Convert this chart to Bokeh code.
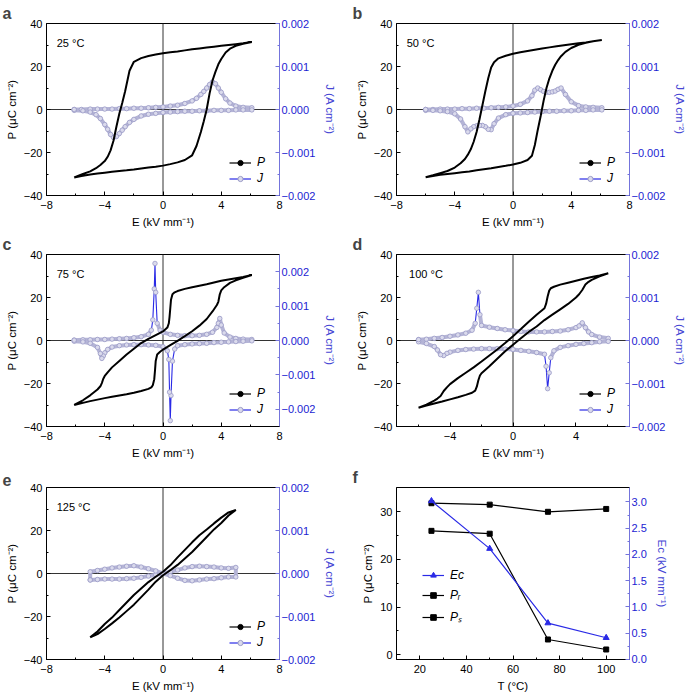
import numpy as np
from bokeh.plotting import figure
from bokeh.models import (Range1d, LinearAxis, Span, Label, Legend, LegendItem,
                          FixedTicker, CustomJSTickFormatter)
from bokeh.layouts import column, row
from bokeh.embed import file_html
from bokeh.resources import INLINE

# ---------------- data ----------------
# panel a, 25 C
A_E_UP = [-6.1, -5.6, -5.0, -4.5, -4.0, -3.5, -3.0, -2.5, -2.0, -1.5, -1.0, -0.5, 0.0, 0.5, 1.0, 1.5, 2.0, 2.3, 2.6, 2.8, 3.0, 3.2, 3.4, 3.6, 3.8, 4.0, 4.3, 4.6, 5.0, 5.5, 6.1]
A_P_UP = [-31.6, -30.9, -30.2, -29.8, -29.4, -29.0, -28.6, -28.3, -27.9, -27.4, -27.0, -26.6, -26.1, -25.4, -24.6, -23.5, -21.3, -17.0, -10.5, -5.5, 0.0, 7.5, 13.5, 17.5, 21.0, 23.5, 26.5, 28.3, 29.6, 30.6, 31.4]
A_J_UP = [0.00000, 0.00000, 0.00001, 0.00001, 0.00001, 0.00001, 0.00002, 0.00002, 0.00003, 0.00003, 0.00004, 0.00005, 0.00006, 0.00008, 0.00010, 0.00014, 0.00020, 0.00026, 0.00035, 0.00042, 0.00050, 0.00058, 0.00064, 0.00060, 0.00050, 0.00040, 0.00025, 0.00015, 0.00008, 0.00005, 0.00004]
A_E_DN = [6.1, 5.5, 5.0, 4.5, 4.0, 3.5, 3.0, 2.5, 2.0, 1.5, 1.0, 0.5, 0.0, -0.5, -1.0, -1.5, -2.0, -2.3, -2.6, -2.8, -3.0, -3.2, -3.4, -3.6, -3.8, -4.0, -4.3, -4.6, -5.0, -5.5, -6.1]
A_P_DN = [31.4, 30.8, 30.4, 30.0, 29.6, 29.2, 28.8, 28.4, 28.0, 27.5, 27.0, 26.6, 26.2, 25.6, 24.9, 23.9, 22.2, 18.0, 8.5, 3.0, -2.0, -8.0, -14.5, -19.0, -22.0, -24.0, -25.8, -27.3, -28.8, -30.0, -31.6]
A_J_DN = [-0.00001, -0.00001, -0.00001, -0.00002, -0.00002, -0.00002, -0.00003, -0.00003, -0.00004, -0.00004, -0.00005, -0.00006, -0.00007, -0.00009, -0.00011, -0.00015, -0.00023, -0.00030, -0.00040, -0.00048, -0.00056, -0.00063, -0.00065, -0.00058, -0.00046, -0.00035, -0.00021, -0.00012, -0.00006, -0.00003, -0.00002]

# panel b, 50 C
B_E_UP = [-6.0, -5.5, -5.0, -4.5, -4.0, -3.5, -3.0, -2.5, -2.0, -1.5, -1.0, -0.5, 0.0, 0.5, 1.0, 1.3, 1.5, 1.7, 1.9, 2.1, 2.3, 2.5, 2.7, 2.9, 3.1, 3.3, 3.6, 4.0, 4.5, 5.0, 5.5, 6.1]
B_P_UP = [-31.5, -30.9, -30.4, -30.0, -29.6, -29.2, -28.8, -28.3, -27.8, -27.3, -26.7, -26.2, -25.6, -24.8, -23.5, -21.5, -16.5, -9.5, -3.0, 4.0, 10.0, 14.5, 18.0, 20.8, 23.0, 24.8, 26.8, 28.6, 30.1, 31.0, 31.7, 32.3]
B_J_UP = [0.00000, 0.00000, 0.00001, 0.00001, 0.00001, 0.00002, 0.00002, 0.00003, 0.00003, 0.00004, 0.00005, 0.00006, 0.00008, 0.00012, 0.00020, 0.00032, 0.00045, 0.00050, 0.00046, 0.00042, 0.00040, 0.00040, 0.00041, 0.00043, 0.00047, 0.00050, 0.00035, 0.00018, 0.00009, 0.00006, 0.00005, 0.00004]
B_E_DN = [6.1, 5.5, 5.0, 4.5, 4.0, 3.5, 3.0, 2.5, 2.0, 1.5, 1.0, 0.5, 0.0, -0.5, -1.0, -1.3, -1.5, -1.7, -1.9, -2.1, -2.3, -2.5, -2.7, -2.9, -3.1, -3.3, -3.6, -4.0, -4.5, -5.0, -5.5, -6.0]
B_P_DN = [32.3, 31.7, 31.2, 30.8, 30.4, 29.9, 29.4, 28.9, 28.4, 27.8, 27.2, 26.6, 25.9, 25.0, 23.8, 22.0, 19.5, 14.5, 8.5, 2.0, -4.5, -10.5, -15.0, -18.5, -21.0, -23.0, -25.0, -27.0, -28.6, -29.6, -30.6, -31.5]
B_J_DN = [-0.00001, -0.00001, -0.00002, -0.00002, -0.00003, -0.00003, -0.00004, -0.00004, -0.00005, -0.00006, -0.00007, -0.00008, -0.00009, -0.00012, -0.00020, -0.00033, -0.00047, -0.00046, -0.00040, -0.00037, -0.00037, -0.00038, -0.00040, -0.00045, -0.00052, -0.00040, -0.00022, -0.00010, -0.00005, -0.00003, -0.00002, -0.00002]

# panel c, 75 C
C_E_UP = [-6.1, -5.5, -5.0, -4.5, -4.0, -3.5, -3.0, -2.5, -2.0, -1.5, -1.0, -0.8, -0.7, -0.6, -0.55, -0.5, -0.4, -0.2, 0.0, 0.5, 1.0, 1.5, 2.0, 2.5, 3.0, 3.4, 3.7, 3.8, 3.9, 4.0, 4.2, 4.6, 5.0, 5.5, 6.1]
C_P_UP = [-30.0, -29.0, -28.2, -27.5, -26.8, -26.2, -25.6, -25.0, -24.3, -23.5, -22.5, -21.8, -20.8, -18.0, -14.0, -9.5, -6.5, -5.2, -4.2, -2.2, -0.2, 2.0, 4.3, 6.9, 10.0, 13.5, 16.5, 18.0, 21.5, 23.3, 24.8, 26.8, 28.0, 29.2, 30.5]
C_J_UP = [0.00001, 0.00002, 0.00002, 0.00003, 0.00003, 0.00004, 0.00005, 0.00006, 0.00008, 0.00011, 0.00018, 0.00030, 0.00060, 0.00150, 0.00224, 0.00140, 0.00050, 0.00030, 0.00024, 0.00018, 0.00015, 0.00014, 0.00014, 0.00015, 0.00018, 0.00024, 0.00038, 0.00050, 0.00064, 0.00045, 0.00022, 0.00010, 0.00006, 0.00004, 0.00003]
C_E_DN = [6.1, 5.5, 5.0, 4.5, 4.0, 3.5, 3.0, 2.5, 2.0, 1.5, 1.0, 0.8, 0.65, 0.55, 0.5, 0.45, 0.4, 0.3, 0.0, -0.5, -1.0, -1.5, -2.0, -2.5, -3.0, -3.5, -3.8, -4.0, -4.1, -4.2, -4.3, -4.5, -5.0, -5.5, -6.1]
C_P_DN = [30.5, 29.6, 29.0, 28.4, 27.8, 27.0, 26.2, 25.5, 24.8, 24.0, 23.0, 22.4, 21.5, 19.0, 15.0, 11.0, 8.0, 6.0, 4.2, 2.5, 0.8, -1.2, -3.8, -6.5, -9.5, -12.5, -14.8, -16.5, -17.8, -19.8, -21.3, -22.8, -25.5, -27.8, -30.0]
C_J_DN = [-0.00001, -0.00002, -0.00003, -0.00004, -0.00005, -0.00006, -0.00008, -0.00009, -0.00010, -0.00012, -0.00015, -0.00025, -0.00060, -0.00160, -0.00233, -0.00150, -0.00055, -0.00030, -0.00018, -0.00014, -0.00013, -0.00012, -0.00012, -0.00013, -0.00015, -0.00019, -0.00026, -0.00036, -0.00045, -0.00052, -0.00038, -0.00020, -0.00008, -0.00004, -0.00002]

# panel d, 100 C
D_E_UP = [-6.0, -5.5, -5.0, -4.5, -4.0, -3.5, -3.0, -2.6, -2.4, -2.3, -2.2, -2.1, -2.0, -1.5, -1.0, -0.5, 0.0, 0.5, 1.0, 1.5, 2.0, 2.5, 3.0, 3.5, 4.0, 4.2, 4.4, 4.6, 4.8, 5.0, 5.5, 6.05]
D_P_UP = [-31.3, -30.3, -29.3, -28.4, -27.4, -26.4, -25.3, -24.3, -23.3, -21.5, -18.5, -16.3, -15.2, -12.0, -8.5, -5.0, -2.0, 1.0, 4.0, 6.5, 9.5, 12.0, 14.5, 17.0, 20.0, 21.5, 23.5, 26.0, 27.3, 28.2, 29.8, 31.3]
D_J_UP = [0.00002, 0.00003, 0.00005, 0.00007, 0.00010, 0.00013, 0.00017, 0.00024, 0.00040, 0.00075, 0.00112, 0.00060, 0.00035, 0.00031, 0.00028, 0.00025, 0.00023, 0.00021, 0.00020, 0.00020, 0.00020, 0.00021, 0.00022, 0.00025, 0.00030, 0.00034, 0.00041, 0.00030, 0.00020, 0.00014, 0.00008, 0.00005]
D_E_DN = [6.05, 5.5, 5.0, 4.5, 4.0, 3.5, 3.0, 2.6, 2.4, 2.3, 2.2, 2.1, 2.0, 1.5, 1.0, 0.5, 0.0, -0.5, -1.0, -1.5, -2.0, -2.5, -3.0, -3.5, -4.0, -4.2, -4.4, -4.6, -4.8, -5.0, -5.5, -6.0]
D_P_DN = [31.3, 30.3, 29.5, 28.7, 27.8, 26.9, 26.0, 25.0, 24.3, 23.2, 20.5, 17.0, 15.0, 12.0, 8.7, 5.3, 2.0, -1.2, -4.2, -7.0, -9.8, -12.5, -15.0, -17.5, -20.3, -21.8, -23.5, -25.8, -27.0, -28.0, -29.8, -31.3]
D_J_DN = [-0.00002, -0.00003, -0.00005, -0.00007, -0.00009, -0.00012, -0.00016, -0.00024, -0.00040, -0.00075, -0.00112, -0.00060, -0.00032, -0.00028, -0.00025, -0.00023, -0.00021, -0.00020, -0.00019, -0.00019, -0.00019, -0.00020, -0.00021, -0.00023, -0.00027, -0.00030, -0.00035, -0.00033, -0.00022, -0.00014, -0.00007, -0.00003]

# panel e, 125 C
E_E_UP = [-5.0, -4.5, -4.0, -3.5, -3.0, -2.5, -2.0, -1.5, -1.0, -0.5, 0.0, 0.5, 1.0, 1.5, 2.0, 2.5, 3.0, 3.5, 4.0, 4.5, 5.0]
E_P_UP = [-29.7, -28.2, -25.8, -23.2, -20.5, -17.5, -14.5, -11.0, -7.5, -3.8, -0.8, 1.5, 4.0, 7.0, 10.0, 13.5, 17.0, 20.5, 23.5, 27.0, 29.6]
E_J_UP = [-0.00015, -0.00014, -0.00013, -0.00013, -0.00013, -0.00012, -0.00011, -0.00009, -0.00006, -0.00003, 0.00000, 0.00004, 0.00008, 0.00013, 0.00016, 0.00017, 0.00016, 0.00015, 0.00013, 0.00012, 0.00014]
E_E_DN = [5.0, 4.5, 4.0, 3.5, 3.0, 2.5, 2.0, 1.5, 1.0, 0.5, 0.0, -0.5, -1.0, -1.5, -2.0, -2.5, -3.0, -3.5, -4.0, -4.5, -5.0]
E_P_DN = [29.6, 28.4, 26.0, 23.3, 20.5, 17.8, 14.5, 11.0, 7.5, 3.8, 0.8, -1.5, -4.0, -7.0, -10.0, -13.5, -17.0, -20.5, -23.5, -27.0, -29.7]
E_J_DN = [-0.00008, -0.00008, -0.00010, -0.00012, -0.00013, -0.00015, -0.00017, -0.00016, -0.00011, -0.00005, 0.00000, 0.00006, 0.00011, 0.00015, 0.00018, 0.00017, 0.00015, 0.00013, 0.00010, 0.00007, 0.00004]

# panel f
F_T = [25, 50, 75, 100]
F_PS = [31.8, 31.5, 30.0, 30.6]
F_PR = [26.0, 25.4, 3.2, 1.1]
F_EC = [3.02, 2.11, 0.69, 0.41]

# ticks
X_TICKS = [-8, -4, 0, 4, 8]
X_TICK_LABELS = ["−8", "−4", "0", "4", "8"]
X_MINOR = [-6, -2, 2, 6]
D_X_TICKS = [-4, 0, 4]
D_X_TICK_LABELS = ["−4", "0", "4"]
P_TICKS = [-40, -20, 0, 20, 40]
P_TICK_LABELS = ["−40", "−20", "0", "20", "40"]
P_MINOR = [-30, -10, 10, 30]
J_TICKS = [-0.002, -0.001, 0.0, 0.001, 0.002]
J_TICK_LABELS = ["−0.002", "−0.001", "0.000", "0.001", "0.002"]
J_MINOR = [-0.0015, -0.0005, 0.0005, 0.0015]
T_TICKS = [20, 40, 60, 80, 100]
T_TICK_LABELS = ["20", "40", "60", "80", "100"]
T_MINOR = [30, 50, 70, 90]
FP_TICKS = [0, 10, 20, 30]
FP_TICK_LABELS = ["0", "10", "20", "30"]
FP_MINOR = [5, 15, 25]
EC_TICKS = [0.0, 0.5, 1.0, 1.5, 2.0, 2.5, 3.0]
EC_TICK_LABELS = ["0.0", "0.5", "1.0", "1.5", "2.0", "2.5", "3.0"]
EC_MINOR = [0.25, 0.75, 1.25, 1.75, 2.25, 2.75]

# ---------------- style ----------------
FONT = "Liberation Sans"
BLUE_TXT = "#1c1cd2"
BLUE_AX = "#7474dc"
BLUE_LBL = "#4646d4"
BLUE_LINE = "#2a2ae6"
LAV_BAND = "#b4b4d6"
LAV_FILL = "#dadaec"
LAV_EDGE = "#9a9ac6"

# (left border, frame width, right border, title offset from canvas left)
COLS = [(46, 233, 61, 2), (56, 233, 48, 12)]
# (top border, bottom border) per row
ROWS = [(21, 36), (21, 38), (21, 33)]
FRAME_H = 172
NAN = [np.nan]


def fmt(tick_vals, tick_labels):
    return CustomJSTickFormatter(args=dict(tv=tick_vals, tl=tick_labels), code="""
        for (let i = 0; i < tv.length; i++) {
            if (Math.abs(tv[i] - tick) < 1e-9) { return tl[i]; }
        }
        return '';
    """)


def style_axis(ax, ticks, labels, minor, color="black", txt="black", lbl="black"):
    ax.ticker = FixedTicker(ticks=ticks, minor_ticks=minor)
    ax.formatter = fmt(ticks, labels)
    ax.axis_label_text_font = FONT
    ax.axis_label_text_font_size = "11.5px"
    ax.axis_label_text_font_style = "normal"
    ax.axis_label_text_color = lbl
    ax.major_label_text_font = FONT
    ax.major_label_text_font_size = "11px"
    ax.major_label_text_color = txt
    ax.axis_line_color = color
    ax.major_tick_line_color = color
    ax.minor_tick_line_color = color
    ax.major_tick_in = 4
    ax.major_tick_out = 0
    ax.minor_tick_in = 2
    ax.minor_tick_out = 0
    ax.major_label_standoff = 4
    ax.axis_label_standoff = 3


def style_legend(leg):
    leg.background_fill_alpha = 0
    leg.border_line_alpha = 0
    leg.label_text_font = FONT
    leg.label_text_font_size = "12px"
    leg.label_text_font_style = "italic"
    leg.label_text_color = "black"
    leg.glyph_width = 22
    leg.glyph_height = 13
    leg.label_height = 13
    leg.label_width = 12
    leg.label_standoff = 6
    leg.spacing = 2
    leg.padding = 2
    leg.margin = 8


def base_fig(col, rowi, xr, yr, letter):
    lb, fw, rb, toff = COLS[col]
    tb, bb = ROWS[rowi]
    p = figure(frame_width=fw, frame_height=FRAME_H, min_border_left=lb, min_border_right=rb,
               min_border_top=tb, min_border_bottom=bb, x_range=Range1d(*xr), y_range=Range1d(*yr),
               output_backend="svg", toolbar_location=None, tools="")
    p.xgrid.visible = False
    p.ygrid.visible = False
    p.outline_line_color = "black"
    p.outline_line_width = 1
    p.title.text = letter
    p.title.align = "left"
    p.title.offset = -lb + toff
    p.title.standoff = 4
    p.title.text_font = FONT
    p.title.text_font_size = "16px"
    p.title.text_font_style = "bold"
    return p


def x_axis_common(ax):
    ax.major_label_standoff = 5
    ax.axis_label_standoff = 4


def loop_panel(col, rowi, letter, temp, temp_x, e_up, p_up, j_up, e_dn, p_dn, j_dn,
               xr, xt, xtl, jr):
    p = base_fig(col, rowi, xr, (-40, 40), letter)
    p.extra_y_ranges = {"J": Range1d(*jr)}
    style_axis(p.xaxis[0], xt, xtl, X_MINOR)
    x_axis_common(p.xaxis[0])
    p.xaxis[0].axis_label = "E (kV mm⁻¹)"
    style_axis(p.yaxis[0], P_TICKS, P_TICK_LABELS, P_MINOR)
    p.yaxis[0].axis_label = "P (μC cm⁻²)"
    rax = LinearAxis(y_range_name="J", axis_label="J (A cm⁻²)")
    style_axis(rax, J_TICKS, J_TICK_LABELS, J_MINOR, color=BLUE_AX, txt=BLUE_TXT, lbl=BLUE_LBL)
    rax.major_label_standoff = 2
    rax.axis_label_standoff = 6
    p.add_layout(rax, "right")

    p.add_layout(Span(location=0, dimension="width", line_color="#333333", line_width=1, level="underlay"))
    p.add_layout(Span(location=0, dimension="height", line_color="#333333", line_width=1, level="underlay"))

    E_all = np.array(e_up + e_dn + e_up[:1])
    J_all = np.array(j_up + j_dn + j_up[:1])
    P_all = np.array(p_up + p_dn)
    EP_all = np.array(e_up + e_dn)

    # J: blue line, lavender band on flat parts, circles on points
    p.line(E_all, J_all, y_range_name="J", line_color=BLUE_LINE, line_width=1.1)
    m = np.abs(np.diff(J_all)) < 0.00025
    p.segment(x0=E_all[:-1][m], y0=J_all[:-1][m], x1=E_all[1:][m], y1=J_all[1:][m],
              y_range_name="J", line_color=LAV_BAND, line_width=4, line_cap="round")
    p.scatter(E_all, J_all, y_range_name="J", marker="circle", size=4.5,
              fill_color=LAV_FILL, line_color=LAV_EDGE, line_width=0.8)

    # P loop
    p.line(EP_all, P_all, line_color="black", line_width=2.0)

    # legend keys (nothing drawn in the plot: NaN placeholders)
    lp1 = p.line(NAN, NAN, line_color="black", line_width=1.2)
    lp2 = p.scatter(NAN, NAN, marker="circle", size=3, fill_color="black", line_color="black")
    lj1 = p.line(NAN, NAN, line_color=BLUE_LINE, line_width=1.2)
    lj2 = p.scatter(NAN, NAN, marker="circle", size=5, fill_color=LAV_FILL, line_color=LAV_EDGE)
    leg = Legend(items=[LegendItem(label="P", renderers=[lp1, lp2]),
                        LegendItem(label="J", renderers=[lj1, lj2])],
                 location="bottom_right")
    style_legend(leg)
    p.add_layout(leg)

    p.add_layout(Label(x=temp_x, y=31, text=temp, text_font=FONT, text_font_size="11px",
                       text_baseline="middle", text_align="left", text_color="black"))
    return p


pa = loop_panel(0, 0, "a", "25 °C", -7.3, A_E_UP, A_P_UP, A_J_UP, A_E_DN, A_P_DN, A_J_DN,
                (-8, 8), X_TICKS, X_TICK_LABELS, (-0.002, 0.002))
pb = loop_panel(1, 0, "b", "50 °C", -7.3, B_E_UP, B_P_UP, B_J_UP, B_E_DN, B_P_DN, B_J_DN,
                (-8, 8), X_TICKS, X_TICK_LABELS, (-0.002, 0.002))
pc = loop_panel(0, 1, "c", "75 °C", -7.3, C_E_UP, C_P_UP, C_J_UP, C_E_DN, C_P_DN, C_J_DN,
                (-8, 8), X_TICKS, X_TICK_LABELS, (-0.0025, 0.0025))
pd = loop_panel(1, 1, "d", "100 °C", -6.6, D_E_UP, D_P_UP, D_J_UP, D_E_DN, D_P_DN, D_J_DN,
                (-7.4, 7.4), D_X_TICKS, D_X_TICK_LABELS, (-0.002, 0.002))
pe = loop_panel(0, 2, "e", "125 °C", -7.3, E_E_UP, E_P_UP, E_J_UP, E_E_DN, E_P_DN, E_J_DN,
                (-8, 8), X_TICKS, X_TICK_LABELS, (-0.002, 0.002))

# panel f
pf = base_fig(1, 2, (10, 110), (-1, 35.1), "f")
pf.extra_y_ranges = {"E": Range1d(-0.005, 3.276)}
style_axis(pf.xaxis[0], T_TICKS, T_TICK_LABELS, T_MINOR)
x_axis_common(pf.xaxis[0])
pf.xaxis[0].axis_label = "T (°C)"
style_axis(pf.yaxis[0], FP_TICKS, FP_TICK_LABELS, FP_MINOR)
pf.yaxis[0].axis_label = "P (μC cm⁻²)"
rf = LinearAxis(y_range_name="E", axis_label="Eᴄ (kV mm⁻¹)")
style_axis(rf, EC_TICKS, EC_TICK_LABELS, EC_MINOR, color=BLUE_AX, txt=BLUE_TXT, lbl=BLUE_LBL)
rf.major_label_standoff = 2
rf.axis_label_standoff = 6
pf.add_layout(rf, "right")

ps_l = pf.line(F_T, F_PS, line_color="black", line_width=1.2)
ps_m = pf.scatter(F_T, F_PS, marker="square", size=5, fill_color="black", line_color="black")
pr_l = pf.line(F_T, F_PR, line_color="black", line_width=1.2)
pr_m = pf.scatter(F_T, F_PR, marker="square", size=5, fill_color="black", line_color="black")
ec_l = pf.line(F_T, F_EC, y_range_name="E", line_color=BLUE_LINE, line_width=1.2)
ec_m = pf.scatter(F_T, F_EC, y_range_name="E", marker="triangle", size=6,
                  fill_color=BLUE_LINE, line_color=BLUE_LINE)
legf = Legend(items=[LegendItem(label="Eᴄ", renderers=[ec_l, ec_m]),
                     LegendItem(label="Pᵣ", renderers=[pr_l, pr_m]),
                     LegendItem(label="Pₛ", renderers=[ps_l, ps_m])],
              location=(24, 32))
style_legend(legf)
legf.glyph_height = 14
legf.label_height = 14
legf.spacing = 6
legf.margin = 0
pf.add_layout(legf)

layout = column(row(pa, pb), row(pc, pd), row(pe, pf))

open("out.html", "w").write(file_html(layout, INLINE))
